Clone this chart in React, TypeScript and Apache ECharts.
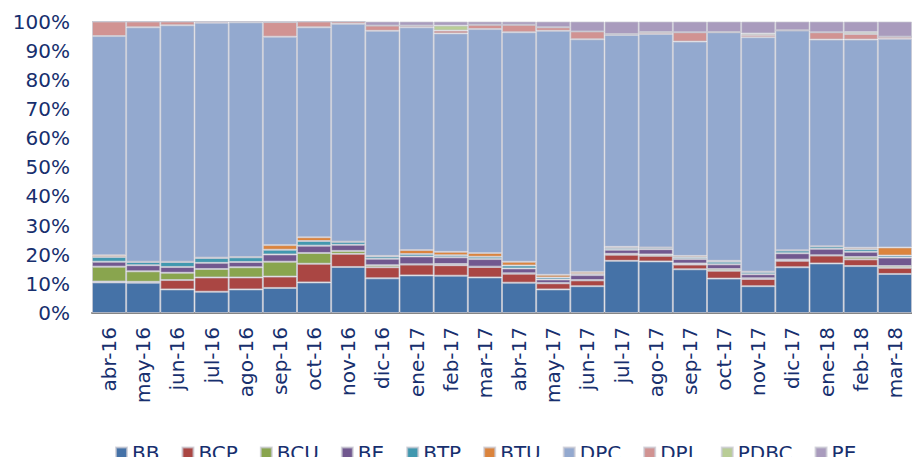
import React, { useEffect, useRef } from "react";
import * as echarts from "echarts";

const categories = ["abr-16","may-16","jun-16","jul-16","ago-16","sep-16","oct-16","nov-16","dic-16","ene-17","feb-17","mar-17","abr-17","may-17","jun-17","jul-17","ago-17","sep-17","oct-17","nov-17","dic-17","ene-18","feb-18","mar-18"];

const BB = [10.5,10.4,8.1,7.3,8.1,8.6,10.5,15.8,11.9,12.9,12.8,12.2,10.4,8.1,9.2,17.9,17.7,15.0,11.8,9.2,15.7,17.0,16.1,13.4];
const BCP = [0.3,0.3,3.2,4.9,4.1,3.9,6.4,4.5,3.8,3.7,3.6,3.6,3.1,2.1,2.0,2.1,1.9,1.6,2.7,2.5,2.2,2.7,2.3,2.1];
const BCU = [5.1,3.6,2.5,2.9,3.5,5.1,3.7,1.0,0.7,0.1,0.4,0.1,0.1,0.1,0.1,0.3,0.5,0.4,0.6,0.2,0.4,0.1,0.8,0.6];
const BE = [1.7,2.1,2.0,2.1,1.8,2.5,2.5,2.1,2.2,2.7,2.3,2.6,1.7,1.2,1.7,1.4,1.8,1.5,1.6,1.4,2.2,2.2,1.8,2.9];
const BTP = [1.6,1.1,1.7,1.7,1.6,1.6,1.6,1.0,0.8,0.8,0.7,0.8,1.0,0.7,0.4,0.6,0.5,0.6,0.9,0.8,0.9,0.8,0.9,0.7];
const BTU = [0.6,0.1,0.1,0.1,0.1,1.6,1.3,0.1,0.2,1.4,1.2,1.3,1.3,0.9,0.7,0.4,0.1,0.5,0.3,0.1,0.1,0.1,0.5,2.8];
const DPC = [75.2,80.4,81.1,80.6,80.5,71.5,72.0,74.7,77.2,76.4,74.9,76.8,78.7,83.7,79.8,72.7,73.2,73.5,78.4,80.4,75.4,70.9,71.4,71.6];
const DPL = [5.0,2.0,1.3,0.4,0.3,5.0,2.0,0.8,1.8,0.6,1.0,1.5,2.6,1.2,2.7,0.3,0.7,3.2,0.1,0.8,0.1,2.5,1.9,0.7];
const PDBC = [0,0,0,0,0,0,0,0,0,0,1.7,0,0,0,0,0,0,0,0,0.5,0,0,0.7,0];
const PE = [0,0,0,0,0,0.2,0,0,1.4,1.4,1.4,1.1,1.1,2.0,3.4,4.3,3.6,3.7,3.6,4.1,3.0,3.7,3.6,5.2];

const seriesNames = ["BB","BCP","BCU","BE","BTP","BTU","DPC","DPL","PDBC","PE"];
const seriesData = [BB,BCP,BCU,BE,BTP,BTU,DPC,DPL,PDBC,PE];
const colors = ["#4572A7","#AA4643","#89A54E","#71588F","#4198AF","#DB843D","#93A9CF","#D19392","#B9CD96","#A99BBD"];

const textColor = "#172F6E";
const font = "'DejaVu Sans', Verdana, sans-serif";

export default function App() {
  const ref = useRef<HTMLDivElement>(null);
  useEffect(() => {
    if (!ref.current) return;
    const chart = echarts.init(ref.current, null, { renderer: "svg" });
    chart.setOption({
      animation: false,
      color: colors,
      textStyle: { fontFamily: font },
      grid: { left: 92, top: 21.5, height: 291.5, width: 830, containLabel: false },
      legend: {
        left: 110,
        top: 438,
        icon: "rect",
        itemWidth: 11,
        itemHeight: 11,
        itemGap: 22,
        data: seriesNames,
        textStyle: { fontSize: 20, color: textColor, fontFamily: font },
      },
      xAxis: {
        type: "category",
        data: categories,
        axisLine: { show: true, lineStyle: { color: "#868686", width: 2 } },
        axisTick: { show: false },
        axisLabel: { rotate: 90, fontSize: 20, color: textColor, margin: 14, fontFamily: font, interval: 0 },
      },
      yAxis: {
        type: "value",
        min: 0,
        max: 100,
        interval: 10,
        splitLine: { show: false },
        axisLine: { show: false },
        axisTick: { show: false },
        axisLabel: { formatter: "{value}%", fontSize: 20, color: textColor, margin: 22, fontFamily: font },
      },
      series: seriesNames.map((name, i) => ({
        name,
        type: "bar",
        stack: "total",
        barCategoryGap: "0%",
        data: seriesData[i],
        itemStyle: { color: colors[i], borderColor: "rgba(200,200,210,0.7)", borderWidth: 1 },
        emphasis: { disabled: true },
      })),
    });
    return () => chart.dispose();
  }, []);
  return (
    <div
      ref={ref}
      style={{ position: "absolute", left: 0, top: 0, width: 912, height: 457 }}
    />
  );
}
